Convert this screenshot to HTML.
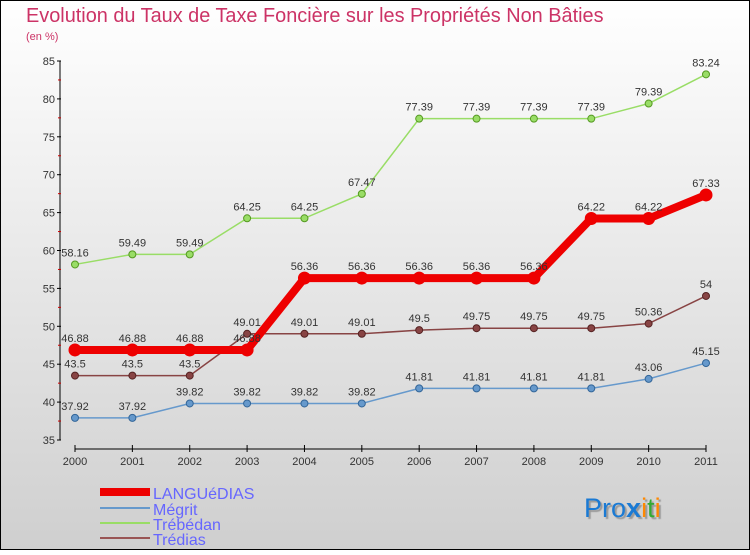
<!DOCTYPE html>
<html><head><meta charset="utf-8"><style>
body{margin:0}
#c{width:750px;height:550px;position:relative;font-family:"Liberation Sans",sans-serif}
</style></head><body>
<div id="c">
<svg id="s" width="750" height="550" xmlns="http://www.w3.org/2000/svg">
<defs><linearGradient id="bg" x1="0" y1="0" x2="0" y2="1"><stop offset="0" stop-color="#ffffff"/><stop offset="1" stop-color="#cfcfcf"/></linearGradient></defs>
<rect x="0.5" y="0.5" width="749" height="549" fill="url(#bg)" stroke="#000"/>
<text x="26" y="22" font-size="19.9" fill="#cc3366">Evolution du Taux de Taxe Foncière sur les Propriétés Non Bâties</text>
<text x="26" y="40" font-size="11" fill="#cc3366">(en %)</text>
<g id="axes"></g><g id="series"></g>
<g>
<line x1="100" y1="492" x2="150" y2="492" stroke="#ee0000" stroke-width="8"/>
<text x="153" y="499" font-size="16" fill="#6666ff">LANGUéDIAS</text>
<line x1="100" y1="508" x2="150" y2="508" stroke="#6699cc" stroke-width="2"/>
<text x="153" y="515" font-size="16" fill="#6666ff">Mégrit</text>
<line x1="100" y1="523" x2="150" y2="523" stroke="#99dd66" stroke-width="2"/>
<text x="153" y="530" font-size="16" fill="#6666ff">Trébédan</text>
<line x1="100" y1="538" x2="150" y2="538" stroke="#995555" stroke-width="2"/>
<text x="153" y="545" font-size="16" fill="#6666ff">Trédias</text>
</g>
<text x="584" y="517" font-size="27" style="text-shadow:2px 2px 1px #999"><tspan fill="#1a7ad4">Pro</tspan><tspan fill="#1a7ad4" font-weight="bold">x</tspan><tspan fill="#ff8800">i</tspan><tspan fill="#33aa33">t</tspan><tspan fill="#ff8800">i</tspan></text>
</svg></div>
<script>
const years=[2000,2001,2002,2003,2004,2005,2006,2007,2008,2009,2010,2011];
const yTicks=[35,40,45,50,55,60,65,70,75,80,85];
const languedias=[46.88,46.88,46.88,46.88,56.36,56.36,56.36,56.36,56.36,64.22,64.22,67.33];
const megrit=[37.92,37.92,39.82,39.82,39.82,39.82,41.81,41.81,41.81,41.81,43.06,45.15];
const trebedan=[58.16,59.49,59.49,64.25,64.25,67.47,77.39,77.39,77.39,77.39,79.39,83.24];
const tredias=[43.5,43.5,43.5,49.01,49.01,49.01,49.5,49.75,49.75,49.75,50.36,54];
const NS="http://www.w3.org/2000/svg";
const x=i=>75+i*(706-75)/(years.length-1);
const y=v=>440-(v-35)*(440-61)/50;
function mk(t,a,p){const e=document.createElementNS(NS,t);for(const k in a)e.setAttribute(k,a[k]);p.appendChild(e);return e;}
const ax=document.getElementById('axes');
const ya=mk('line',{x1:60,y1:61,x2:60,y2:440,stroke:'#000'},ax);


yTicks.forEach(t=>{
 mk('line',{x1:57,y1:y(t),x2:61,y2:y(t),stroke:'#000'},ax);
 if(t<85){mk('line',{x1:58,y1:y(t+2.5),x2:61,y2:y(t+2.5),stroke:'#cc0000'},ax);}
 const l=mk('text',{x:55,y:y(t)+4,'font-size':11,'text-anchor':'end',fill:'#333'},ax);
 l.textContent=t;
 
 
});
const xa=mk('line',{x1:75,y1:449,x2:706,y2:449,stroke:'#000'},ax);


years.forEach((yr,i)=>{
 mk('line',{x1:x(i),y1:445,x2:x(i),y2:452,stroke:'#000'},ax);
 const l=mk('text',{x:x(i),y:465,'font-size':11,'text-anchor':'middle',fill:'#333'},ax);
 l.textContent=yr;
 
 
});
const sg=document.getElementById('series');
function draw(data,name,col,dark,w,r){
 const g=mk('g',{},sg);
 
 
 const pl=mk('polyline',{points:data.map((v,i)=>x(i)+','+y(v)).join(' '),fill:'none',stroke:col,'stroke-width':w},g);
 
 
 data.forEach((v,i)=>{
  const c=mk('circle',{cx:x(i),cy:y(v),r:r,fill:col,stroke:dark,'stroke-width':1},g);
  
  
  const t=mk('text',{x:x(i),y:y(v)-8,'font-size':11,'text-anchor':'middle',fill:'#333'},g);
  t.textContent=String(v);
  
  
 });
}
draw(megrit,'megrit','#6699cc','#336699',1.5,3.5);
draw(trebedan,'trebedan','#99dd66','#559922',1.5,3.5);
draw(tredias,'tredias','#884444','#552222',1.5,3.5);
draw(languedias,'languedias','#ee0000','#ee0000',8,6);
</script>
</body></html>
